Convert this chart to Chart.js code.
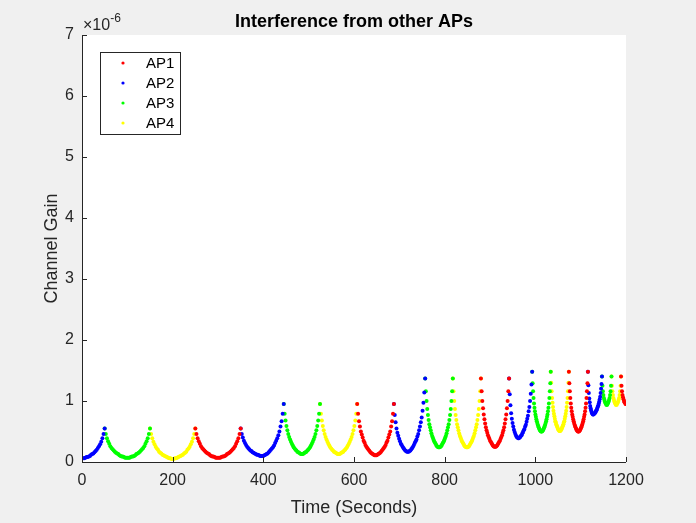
<!DOCTYPE html>
<html>
<head>
<meta charset="utf-8">
<title>Interference from other APs</title>
<script src="https://cdn.jsdelivr.net/npm/chart.js@4.4.1/dist/chart.umd.min.js"></script>
<style>
  html, body { margin: 0; padding: 0; background: #f0f0f0; }
  #gainChart { display: block; }
</style>
</head>
<body>
<canvas id="gainChart" width="696" height="523"></canvas>
<script>
// time spans (s) during which each AP is the interferer
const ap1Spans = [[250, 350], [607, 688], [880, 942], [1074, 1116], [1189, 1200]];
const ap2Spans = [[0, 50], [350, 445], [688, 757], [942, 993], [1116, 1147]];
const ap3Spans = [[50, 150], [445, 525], [757, 818], [993, 1034], [1147, 1168]];
const ap4Spans = [[150, 250], [525, 607], [818, 880], [1034, 1074], [1168, 1189]];

// channel gain (x1e-6), samples evenly spaced across each span
const ap1Gain = [
  [.55,.46,.39,.34,.30,.26,.23,.21,.19,.17,.15,.14,.13,.11,.10,.09,.09,.08,.07,.07,.07,.07,.07,.08,.09,.09,.10,.11,.13,.14,.15,.17,.19,.21,.23,.26,.30,.34,.39,.46,.55],
  [.95,.79,.67,.58,.50,.45,.40,.35,.32,.28,.25,.23,.21,.19,.17,.15,.14,.13,.12,.11,.11,.11,.12,.13,.14,.15,.17,.19,.21,.23,.25,.28,.32,.35,.40,.45,.50,.58,.67,.79,.95],
  [1.37,1.16,1.00,.88,.78,.70,.63,.57,.52,.48,.44,.41,.38,.35,.33,.31,.29,.27,.26,.25,.25,.25,.26,.27,.29,.31,.33,.35,.38,.41,.44,.48,.52,.57,.63,.70,.78,.88,1.00,1.16,1.37],
  [1.48,1.29,1.16,1.05,.96,.89,.83,.78,.74,.70,.67,.64,.61,.59,.57,.55,.53,.52,.51,.50,.50,.50,.51,.52,.53,.55,.57,.59,.61,.64,.67,.70,.74,.78,.83,.89,.96,1.05,1.16,1.29,1.48],
  [1.40,1.25,1.16,1.10,1.06,1.03,1.00,.98,.97,.95,.95]
];
const ap2Gain = [
  [.06,.06,.06,.07,.08,.08,.09,.10,.12,.13,.14,.16,.18,.20,.23,.26,.29,.33,.39,.46,.55],
  [.55,.46,.40,.35,.31,.28,.25,.23,.21,.19,.18,.16,.15,.14,.13,.12,.12,.11,.10,.10,.10,.10,.11,.12,.13,.14,.16,.18,.20,.22,.24,.27,.31,.35,.39,.44,.50,.58,.67,.79,.95],
  [.95,.77,.65,.55,.48,.43,.38,.34,.30,.28,.25,.23,.21,.19,.18,.17,.17,.17,.18,.19,.21,.23,.25,.28,.31,.34,.37,.42,.46,.52,.58,.65,.73,.84,.97,1.14,1.37],
  [1.37,1.11,.93,.80,.71,.64,.58,.53,.49,.46,.43,.41,.40,.39,.39,.40,.41,.43,.44,.47,.49,.52,.54,.58,.61,.66,.71,.76,.83,.90,1.00,1.12,1.27,1.48],
  [1.48,1.26,1.13,1.04,.98,.92,.88,.85,.82,.80,.79,.78,.78,.79,.79,.80,.81,.82,.84,.85,.87,.89,.91,.93,.96,.99,1.03,1.07,1.13,1.20,1.28,1.40]
];
const ap3Gain = [
  [.55,.46,.39,.34,.30,.26,.23,.21,.19,.17,.15,.14,.13,.11,.10,.09,.09,.08,.07,.07,.07,.07,.07,.08,.09,.09,.10,.11,.13,.14,.15,.17,.19,.21,.23,.26,.30,.34,.39,.46,.55],
  [.95,.79,.68,.59,.52,.46,.41,.37,.33,.30,.27,.24,.22,.20,.19,.17,.16,.15,.14,.13,.13,.13,.14,.15,.16,.17,.19,.20,.22,.24,.27,.30,.33,.37,.41,.46,.52,.59,.68,.79,.95],
  [1.37,1.16,1.00,.87,.77,.69,.62,.57,.52,.47,.43,.40,.37,.34,.32,.30,.28,.26,.25,.24,.24,.24,.25,.26,.28,.30,.32,.34,.37,.40,.43,.47,.52,.57,.62,.69,.77,.87,1.00,1.16,1.37],
  [1.48,1.29,1.16,1.05,.96,.89,.83,.78,.74,.70,.67,.64,.61,.59,.57,.55,.53,.52,.51,.50,.50,.50,.51,.52,.53,.55,.57,.59,.61,.64,.67,.70,.74,.78,.83,.89,.96,1.05,1.16,1.29,1.48],
  [1.40,1.25,1.16,1.10,1.05,1.02,.99,.97,.96,.94,.94,.94,.96,.97,.99,1.02,1.05,1.10,1.16,1.25,1.40]
];
const ap4Gain = [
  [.55,.46,.39,.33,.29,.25,.22,.20,.17,.15,.14,.12,.11,.10,.09,.08,.07,.06,.06,.05,.05,.05,.06,.06,.07,.08,.09,.10,.11,.12,.14,.15,.17,.20,.22,.25,.29,.33,.39,.46,.55],
  [.95,.79,.68,.59,.52,.46,.41,.37,.33,.30,.27,.24,.22,.20,.19,.17,.16,.15,.14,.13,.13,.13,.14,.15,.16,.17,.19,.20,.22,.24,.27,.30,.33,.37,.41,.46,.52,.59,.68,.79,.95],
  [1.37,1.16,1.00,.87,.77,.69,.62,.57,.52,.47,.43,.40,.37,.34,.32,.30,.28,.26,.25,.24,.24,.24,.25,.26,.28,.30,.32,.34,.37,.40,.43,.47,.52,.57,.62,.69,.77,.87,1.00,1.16,1.37],
  [1.48,1.30,1.16,1.05,.97,.90,.84,.79,.75,.71,.67,.65,.62,.60,.58,.56,.54,.53,.52,.51,.51,.51,.52,.53,.54,.56,.58,.60,.62,.65,.67,.71,.75,.79,.84,.90,.97,1.05,1.16,1.30,1.48],
  [1.40,1.25,1.16,1.10,1.05,1.02,.99,.97,.96,.94,.94,.94,.96,.97,.99,1.02,1.05,1.10,1.16,1.25,1.40]
];

const apNames = ["AP1", "AP2", "AP3", "AP4"];
const apColors = ["#ff0000", "#0000ff", "#00ff00", "#ffff00"];
const xTicks = [0, 200, 400, 600, 800, 1000, 1200];
const yTicks = [0, 1, 2, 3, 4, 5, 6, 7];

const FONT = "'Liberation Sans', Arial, Helvetica, sans-serif";
const AXIS_COLOR = "#262626";

function toPoints(spans, gains) {
  const pts = [];
  spans.forEach(([t0, t1], s) => {
    const g = gains[s];
    const dt = (t1 - t0) / (g.length - 1);
    g.forEach((v, i) => pts.push({ x: t0 + i * dt, y: v }));
  });
  return pts;
}

const allSpans = [ap1Spans, ap2Spans, ap3Spans, ap4Spans];
const allGain = [ap1Gain, ap2Gain, ap3Gain, ap4Gain];

const datasets = apNames.map((name, i) => ({
  label: name,
  data: toPoints(allSpans[i], allGain[i]),
  showLine: false,
  pointRadius: 2,
  pointBorderWidth: 0,
  pointBackgroundColor: apColors[i],
  pointBorderColor: apColors[i],
}));

// white axes box, inward ticks, title, labels and legend drawn the MATLAB way
const matlabFrame = {
  id: "matlabFrame",
  beforeDraw(chart) {
    const { ctx, chartArea: a } = chart;
    ctx.save();
    ctx.fillStyle = "#ffffff";
    ctx.fillRect(a.left, a.top, a.right - a.left, a.bottom - a.top);
    ctx.restore();
  },
  afterDraw(chart) {
    const { ctx, chartArea: a, scales } = chart;
    const tick = 5;
    ctx.save();
    ctx.strokeStyle = AXIS_COLOR;
    ctx.lineWidth = 1;
    ctx.beginPath();
    ctx.moveTo(a.left + 0.5, a.top);
    ctx.lineTo(a.left + 0.5, a.bottom + 0.5);
    ctx.lineTo(a.right, a.bottom + 0.5);
    xTicks.forEach(v => {
      const px = Math.round(scales.x.getPixelForValue(v)) + 0.5;
      ctx.moveTo(px, a.bottom);
      ctx.lineTo(px, a.bottom - tick);
    });
    yTicks.forEach(v => {
      const py = Math.round(scales.y.getPixelForValue(v)) + 0.5;
      ctx.moveTo(a.left, py);
      ctx.lineTo(a.left + tick, py);
    });
    ctx.stroke();

    // title
    const cx = (a.left + a.right) / 2;
    ctx.fillStyle = "#000000";
    ctx.font = "bold 18px " + FONT;
    ctx.textAlign = "center";
    ctx.textBaseline = "alphabetic";
    ctx.fillText("Interference from other APs", cx, 27);

    // exponent of the y axis
    ctx.fillStyle = AXIS_COLOR;
    ctx.textAlign = "left";
    ctx.font = "16px " + FONT;
    ctx.fillText("\u00d710", a.left + 1, 30);
    const w = ctx.measureText("\u00d710").width;
    ctx.font = "12px " + FONT;
    ctx.fillText("-6", a.left + 1 + w, 22);

    // axis titles
    ctx.font = "18px " + FONT;
    ctx.textAlign = "center";
    ctx.fillText("Time (Seconds)", cx, 513);
    ctx.save();
    ctx.translate(57, (a.top + a.bottom) / 2);
    ctx.rotate(-Math.PI / 2);
    ctx.fillText("Channel Gain", 0, 0);
    ctx.restore();

    // legend
    const bx = a.left + 18, by = a.top + 17, bw = 80, bh = 82;
    ctx.fillStyle = "#ffffff";
    ctx.fillRect(bx, by, bw, bh);
    ctx.strokeStyle = AXIS_COLOR;
    ctx.strokeRect(bx + 0.5, by + 0.5, bw, bh);
    ctx.font = "15px " + FONT;
    ctx.textAlign = "left";
    ctx.textBaseline = "middle";
    apNames.forEach((name, i) => {
      const ry = by + 11 + i * 20;
      ctx.fillStyle = apColors[i];
      ctx.beginPath();
      ctx.arc(bx + 23, ry, 1.6, 0, Math.PI * 2);
      ctx.fill();
      ctx.fillStyle = "#000000";
      ctx.fillText(name, bx + 46, ry + 1);
    });
    ctx.restore();
  },
};

new Chart(document.getElementById("gainChart"), {
  type: "scatter",
  data: { datasets },
  plugins: [matlabFrame],
  options: {
    responsive: false,
    animation: false,
    events: [],
    layout: { padding: { left: 0, top: 35, right: 70, bottom: 0 } },
    plugins: {
      legend: { display: false },
      title: { display: false },
      tooltip: { enabled: false },
    },
    scales: {
      x: {
        type: "linear",
        min: 0,
        max: 1200,
        afterBuildTicks: s => { s.ticks = xTicks.map(v => ({ value: v })); },
        afterFit: s => { s.height = 61; },
        grid: { display: false, drawTicks: false },
        border: { display: false },
        ticks: {
          padding: 9,
          color: AXIS_COLOR,
          font: { family: FONT, size: 16 },
          callback: v => String(v),
        },
      },
      y: {
        type: "linear",
        min: 0,
        max: 7,
        afterBuildTicks: s => { s.ticks = yTicks.map(v => ({ value: v })); },
        afterFit: s => { s.width = 82; },
        grid: { display: false, drawTicks: false },
        border: { display: false },
        ticks: {
          padding: 8,
          color: AXIS_COLOR,
          font: { family: FONT, size: 16 },
          callback: v => String(v),
        },
      },
    },
  },
});
</script>
</body>
</html>
